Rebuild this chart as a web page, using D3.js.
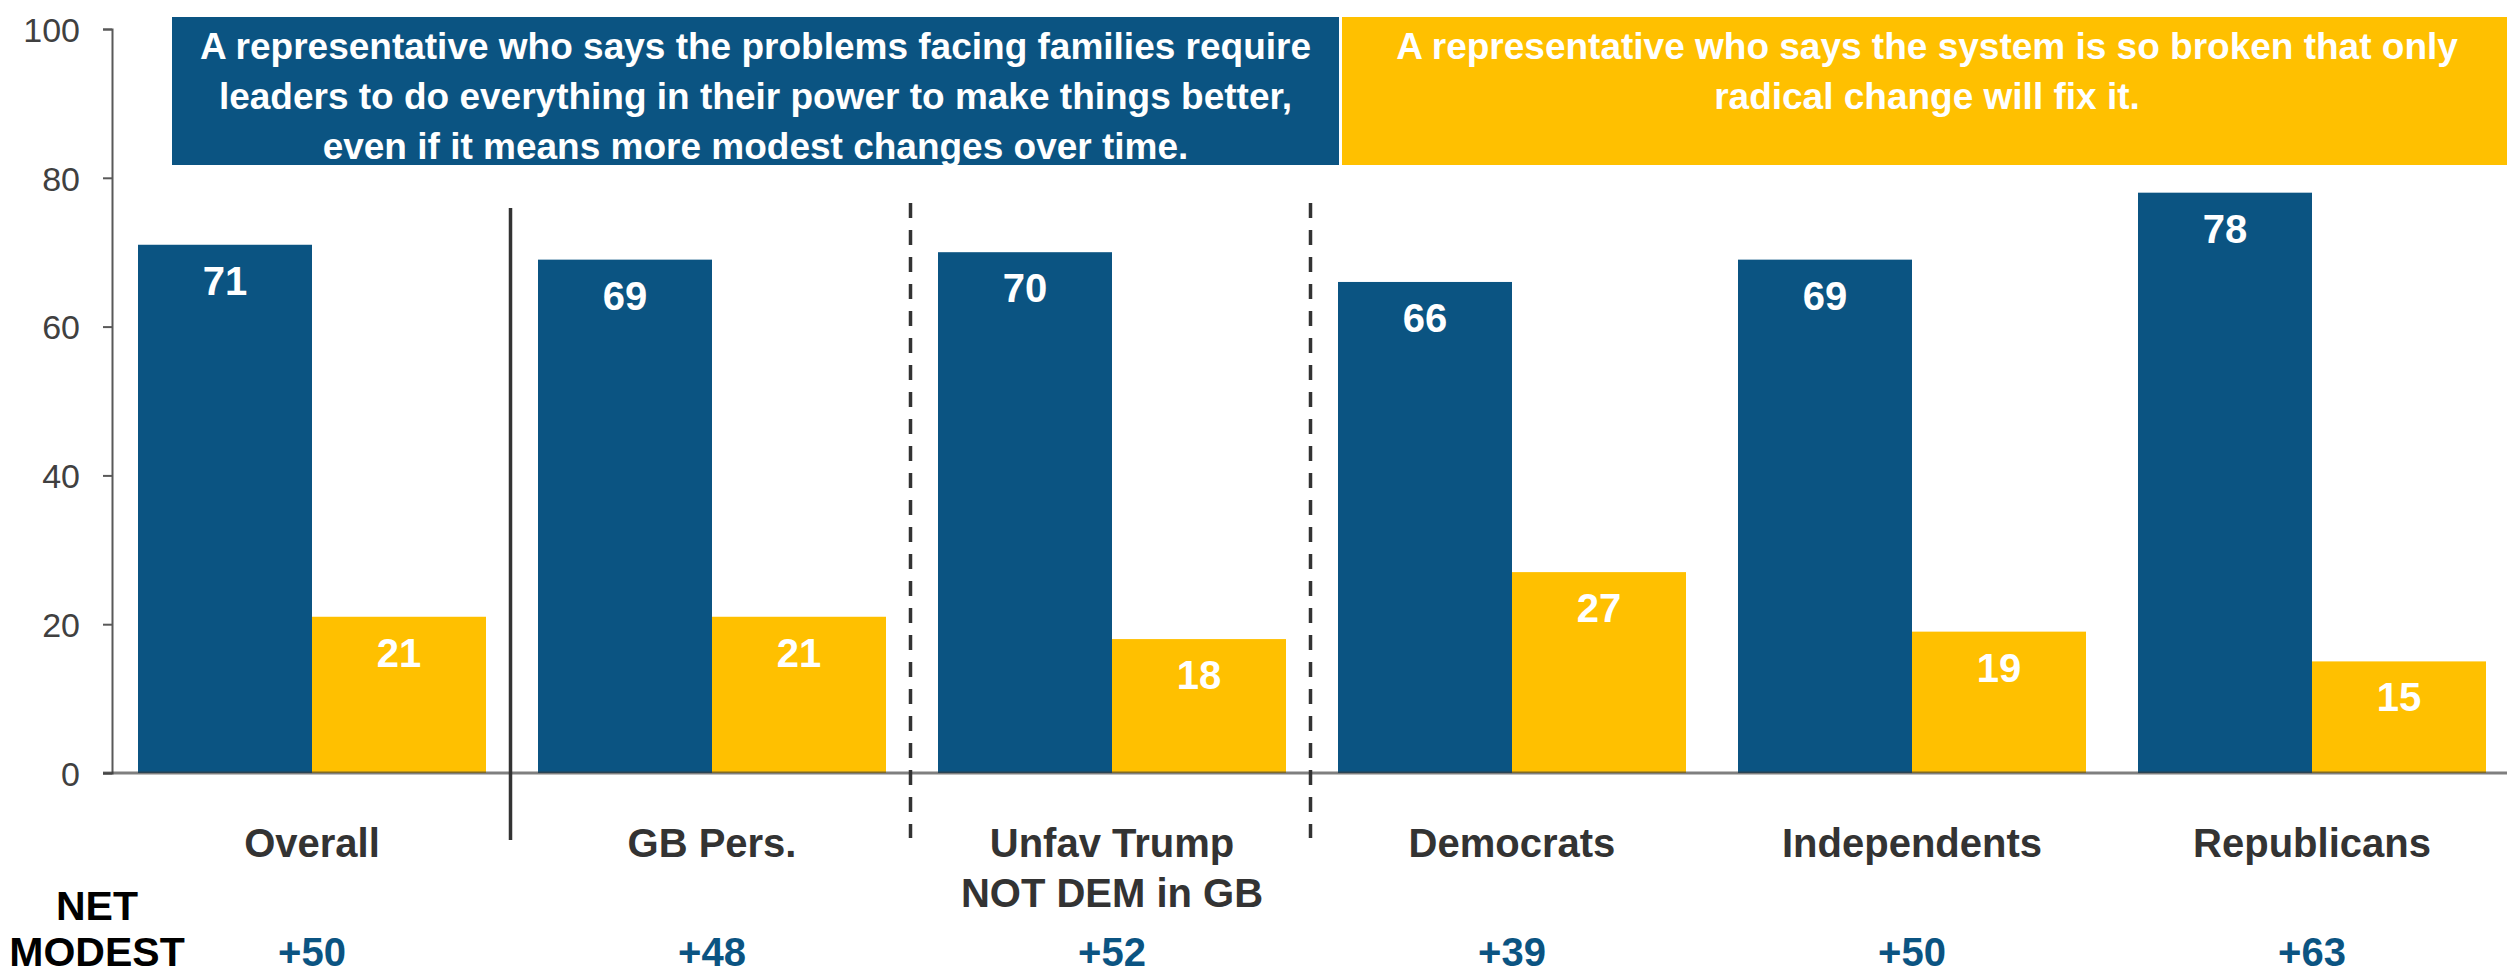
<!DOCTYPE html>
<html>
<head>
<meta charset="utf-8">
<script src="https://cdn.jsdelivr.net/npm/d3@7"></script>
<style>
  html, body { margin: 0; padding: 0; background: #ffffff; }
  svg { display: block; }
  text { font-family: "Liberation Sans", Arial, sans-serif; }
</style>
</head>
<body>
<svg id="chart" width="2507" height="974"></svg>
<script>
// ---------- data ----------
const categories = ["Overall", "GB Pers.", "Unfav Trump", "Democrats", "Independents", "Republicans"];
const categoryLabels = [["Overall"], ["GB Pers."], ["Unfav Trump", "NOT DEM in GB"], ["Democrats"], ["Independents"], ["Republicans"]];
const seriesNames = ["modest", "radical"];
const modestValues = [71, 69, 70, 66, 69, 78];
const radicalValues = [21, 21, 18, 27, 19, 15];
const netModest = ["+50", "+48", "+52", "+39", "+50", "+63"];
const yTicks = [0, 20, 40, 60, 80, 100];
const separatorTypes = ["solid", "dashed", "dashed"]; // after category 0,1,2
const headerModest = ["A representative who says the problems facing families require",
                      "leaders to do everything in their power to make things better,",
                      "even if it means more modest changes over time."];
const headerRadical = ["A representative who says the system is so broken that only",
                       "radical change will fix it."];

// ---------- styles ----------
const BLUE = "#0b5482";
const YELLOW = "#ffc000";
const colors = { modest: BLUE, radical: YELLOW };

const svg = d3.select("#chart");

const x = d3.scaleBand().domain(categories).range([112, 2512]).paddingInner(0.13).paddingOuter(0.065);
const x1 = d3.scaleBand().domain(seriesNames).range([0, x.bandwidth()]);
const y = d3.scaleLinear().domain([0, 100]).range([773, 29]);

const rows = categories.map((c, i) => ({ cat: c, modest: modestValues[i], radical: radicalValues[i] }));

// ---------- header boxes ----------
const hdr = svg.append("g");
hdr.append("rect").attr("x", 172).attr("y", 17).attr("width", 1339 - 172).attr("height", 148).attr("fill", BLUE);
hdr.append("rect").attr("x", 1342).attr("y", 17).attr("width", 2512 - 1342).attr("height", 148).attr("fill", YELLOW);
const hdrText = (lines, cx) => {
  const t = hdr.append("text").attr("text-anchor", "middle").attr("fill", "#ffffff")
    .attr("font-size", 37).attr("font-weight", "bold");
  lines.forEach((l, i) => t.append("tspan").attr("x", cx).attr("y", 59 + i * 50).text(l));
};
hdrText(headerModest, (172 + 1339) / 2);
hdrText(headerRadical, (1342 + 2512) / 2);

// ---------- y axis ----------
const yAxis = d3.axisLeft(y).tickValues(yTicks).tickSize(9).tickSizeOuter(9).tickPadding(23);
const yg = svg.append("g").attr("transform", "translate(112,0)").call(yAxis);
yg.select(".domain").attr("stroke", "#595959").attr("stroke-width", 2);
yg.selectAll(".tick line").attr("stroke", "#595959").attr("stroke-width", 2);
yg.selectAll(".tick text").attr("font-size", 34).attr("fill", "#404040")
  .attr("font-family", "'Liberation Sans', Arial, sans-serif").attr("dy", "0.36em");

// ---------- bars ----------
const groups = svg.append("g").selectAll("g").data(rows).join("g")
  .attr("transform", d => `translate(${x(d.cat)},0)`);
groups.selectAll("rect").data(d => seriesNames.map(k => ({ key: k, value: d[k] }))).join("rect")
  .attr("x", d => x1(d.key))
  .attr("y", d => y(d.value))
  .attr("width", x1.bandwidth())
  .attr("height", d => y(0) - y(d.value))
  .attr("fill", d => colors[d.key]);
groups.selectAll("text.val").data(d => seriesNames.map(k => ({ key: k, value: d[k] }))).join("text")
  .attr("class", "val")
  .attr("x", d => x1(d.key) + x1.bandwidth() / 2)
  .attr("y", d => y(d.value) + 50)
  .attr("text-anchor", "middle").attr("fill", "#ffffff")
  .attr("font-size", 40).attr("font-weight", "bold")
  .text(d => d.value);

// ---------- baseline ----------
svg.append("line").attr("x1", 103).attr("x2", 2507).attr("y1", y(0)).attr("y2", y(0))
  .attr("stroke", "#3a3a3a").attr("stroke-opacity", 0.65).attr("stroke-width", 3);

// ---------- separators ----------
const gapHalf = x.step() * x.paddingInner() / 2;
separatorTypes.forEach((type, i) => {
  const sx = x(categories[i]) + x.bandwidth() + gapHalf - 1.5;
  svg.append("line").attr("x1", sx).attr("x2", sx)
    .attr("y1", type === "solid" ? 208 : 203).attr("y2", type === "solid" ? 840 : 838)
    .attr("stroke", "#333333").attr("stroke-width", 3.5)
    .attr("stroke-dasharray", type === "solid" ? null : "15,12");
});

// ---------- category labels ----------
categoryLabels.forEach((lines, i) => {
  const t = svg.append("text").attr("text-anchor", "middle").attr("fill", "#333333")
    .attr("font-size", 40).attr("font-weight", "bold");
  lines.forEach((l, j) => t.append("tspan").attr("x", x(categories[i]) + x.bandwidth() / 2).attr("y", 857 + j * 50).text(l));
});

// ---------- net modest row ----------
const nt = svg.append("text").attr("text-anchor", "middle").attr("fill", "#000000")
  .attr("font-size", 41).attr("font-weight", "bold");
nt.append("tspan").attr("x", 97).attr("y", 920).text("NET");
nt.append("tspan").attr("x", 97).attr("y", 966).text("MODEST");
svg.append("g").selectAll("text").data(netModest).join("text")
  .attr("x", (d, i) => x(categories[i]) + x.bandwidth() / 2)
  .attr("y", 966)
  .attr("text-anchor", "middle").attr("fill", BLUE)
  .attr("font-size", 40).attr("font-weight", "bold")
  .text(d => d);
</script>
</body>
</html>
